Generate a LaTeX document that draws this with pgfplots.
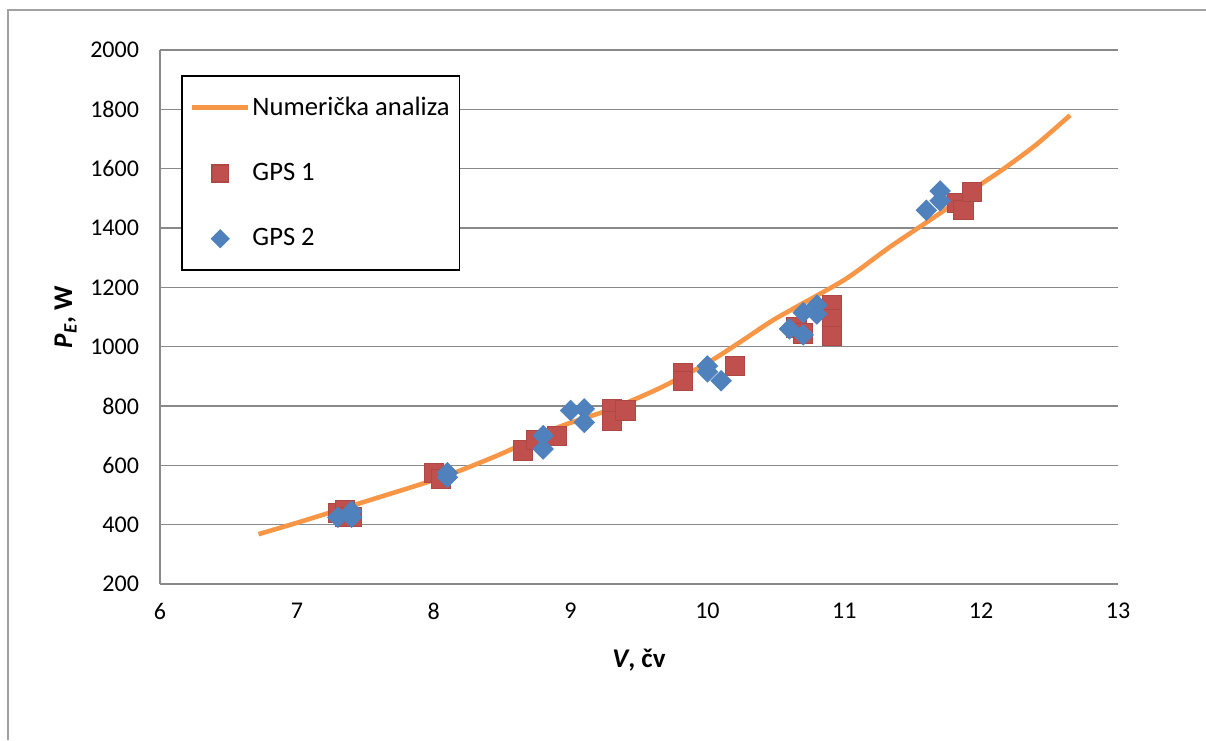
\documentclass[border=0pt]{standalone}
\usepackage{fontspec}
\setmainfont{Carlito}
\usepackage{pgfplots}
\pgfplotsset{compat=1.18}
\definecolor{exorange}{HTML}{F79646}
\definecolor{exred}{HTML}{C0504D}
\definecolor{exblue}{HTML}{4F81BD}
\definecolor{gridgray}{HTML}{898989}
\pgfplotsset{
  lineleg/.style={legend image code/.code={\draw[##1] (0pt,0pt) -- (28pt,0pt);}},
  markleg/.style={legend image code/.code={\draw[mark repeat=2,mark phase=2,##1,mark size=4.2pt] plot coordinates {(0pt,0pt) (14pt,0pt) (28pt,0pt)};}},
  dmdleg/.style={legend image code/.code={\draw[mark repeat=2,mark phase=2,##1,mark size=3pt] plot coordinates {(0pt,0pt) (14pt,0pt) (28pt,0pt)};}},
}
\begin{document}
\begin{tikzpicture}[x=1pt,y=1pt]
\path[use as bounding box] (0,0) rectangle (603,370);
\draw[gridgray!80, line width=0.8pt] (4,0) -- (4,365) -- (603,365);
\begin{axis}[
  at={(80pt,78pt)}, anchor=south west,
  scale only axis, width=479pt, height=267pt,
  xmin=6, xmax=13, ymin=200, ymax=2000,
  xtick={6,7,...,13}, ytick={200,400,...,2000},
  axis x line*=bottom, axis y line*=left,
  axis line style={gridgray, line width=0.8pt, -},
  ymajorgrids, major grid style={gridgray, line width=0.8pt},
  major tick length=0pt,
  tick label style={font=\fontsize{12}{14}\selectfont},
  /pgf/number format/assume math mode=true,
  /pgf/number format/1000 sep={},
  yticklabel style={xshift=-7pt},
  xticklabel style={yshift=-6pt},
  xlabel={\bfseries\itshape V\upshape, čv},
  ylabel={\bfseries\itshape P\textsubscript{E}\upshape, W},
  label style={font=\fontsize{13.5}{16}\selectfont},
  xlabel style={yshift=-8pt},
  ylabel style={yshift=0pt},
  legend style={at={(0.022,0.953)}, anchor=north west, draw=black, line width=0.8pt,
    inner xsep=4pt, inner ysep=9.5pt, row sep=20.5pt,
    font=\fontsize{13.3}{15}\selectfont, nodes={inner sep=1pt}},
  legend cell align=left,
]
\addplot[exorange, line width=2.3pt, smooth, tension=0.4, lineleg] coordinates {
(6.72,368) (7.02,409) (7.5,478) (8.07,561) (8.5,640) (8.92,730) (9.3,790)
(9.65,860) (10.0,945) (10.26,1022) (10.5,1095) (11.0,1225) (11.33,1335)
(11.7,1450) (12.0,1548) (12.16,1598) (12.4,1680) (12.65,1780)};
\addlegendentry{Numerička analiza}
\addplot[only marks, mark=square*, mark size=4.8pt, mark options={draw=exred!90!black, fill=exred}, markleg] coordinates {
(7.3,440) (7.35,450) (7.4,425) (7.35,425)
(8.0,575) (8.05,555)
(8.65,650) (8.75,685) (8.9,700)
(9.3,790) (9.3,750) (9.4,785)
(9.82,912) (9.82,885) (10.2,935)
(10.65,1065) (10.7,1045)
(10.91,1142) (10.91,1092) (10.91,1035)
(11.82,1485) (11.87,1460) (11.93,1522)};
\addlegendentry{GPS 1}
\addplot[only marks, mark=square*, mark size=3.6pt, mark options={draw=exblue, fill=exblue, rotate=45}, dmdleg] coordinates {
(7.3,425) (7.4,445) (7.4,425)
(8.1,575) (8.1,560)
(8.8,700) (8.8,655)
(9.0,785) (9.1,790) (9.1,745)
(10.0,935) (10.0,915) (10.1,885)
(10.6,1060) (10.7,1040) (10.7,1115) (10.8,1140) (10.8,1110)
(11.6,1460) (11.7,1492) (11.7,1525)};
\addlegendentry{GPS 2}
\end{axis}
\end{tikzpicture}
\end{document}
